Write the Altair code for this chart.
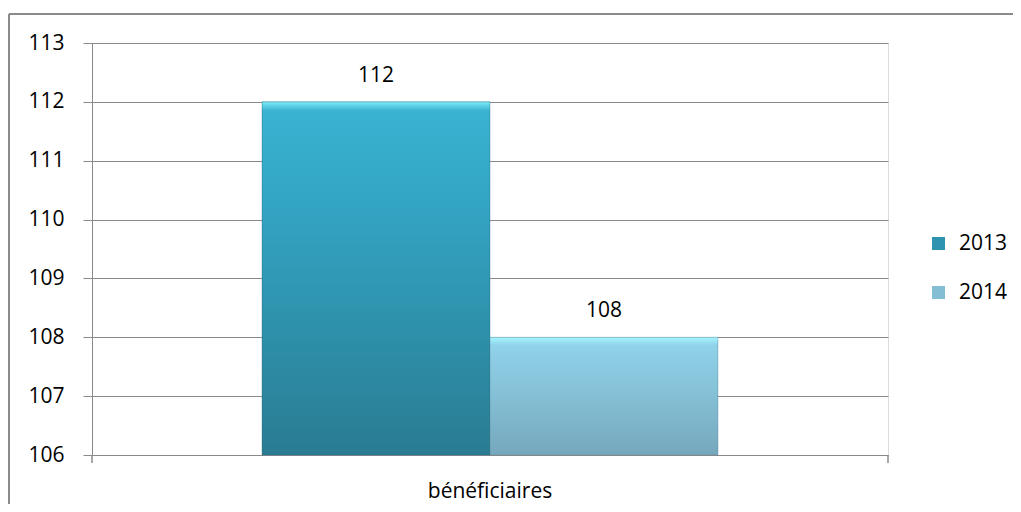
import altair as alt
import pandas as pd

category = ["bénéficiaires"]
years = ["2013", "2014"]
values = [112, 108]
y_ticks = [106, 107, 108, 109, 110, 111, 112, 113]
y_min, y_max = 106, 113

legend_colors = ["#2E93AF", "#84BED4"]
FONT = "Open Sans"
GRID = "#8a8a8a"

df = pd.DataFrame({"cat": category * len(years), "year": years, "value": values})

W, H = 796, 412

x_enc = alt.X("cat:N", title=None,
              scale=alt.Scale(paddingInner=0, paddingOuter=0.373),
              axis=alt.Axis(ticks=False, domain=False, labelFontSize=21, labelFont=FONT,
                            labelColor="black", labelPadding=25, labelAngle=0))
xo_enc = alt.XOffset("year:N", scale=alt.Scale(domain=years, paddingInner=0, paddingOuter=0))
y_enc = alt.Y("value:Q", title=None,
              scale=alt.Scale(domain=[y_min, y_max], nice=False, zero=False),
              axis=alt.Axis(values=y_ticks, grid=True, gridColor=GRID, gridWidth=1,
                            domainColor=GRID, domainWidth=1, tickColor=GRID, tickSize=9,
                            tickWidth=1, labelFontSize=21, labelFont=FONT, labelColor="black",
                            labelPadding=19))

base = alt.Chart(df).encode(x=x_enc, xOffset=xo_enc, y=y_enc, y2=alt.datum(y_min))

legend_layer = base.mark_bar().encode(
    color=alt.Color("year:N", scale=alt.Scale(domain=years, range=legend_colors),
                    legend=alt.Legend(title=None, orient="none", legendX=836, legendY=190,
                                      symbolType="square", symbolSize=169, symbolStrokeWidth=0,
                                      labelFontSize=21, labelFont=FONT, labelColor="black",
                                      labelOffset=10, rowPadding=27, padding=0))
)

grad13 = alt.Gradient(gradient="linear", x1=0, x2=0, y1=0, y2=1, stops=[
    alt.GradientStop(offset=0, color="#7DEAF7"),
    alt.GradientStop(offset=0.025, color="#3AB2D1"),
    alt.GradientStop(offset=0.3, color="#33A4C3"),
    alt.GradientStop(offset=1, color="#297C92"),
])
grad14 = alt.Gradient(gradient="linear", x1=0, x2=0, y1=0, y2=1, stops=[
    alt.GradientStop(offset=0, color="#A5F5FC"),
    alt.GradientStop(offset=0.07, color="#90D2EA"),
    alt.GradientStop(offset=0.4, color="#87C4DA"),
    alt.GradientStop(offset=1, color="#76A8BD"),
])

bar13 = base.transform_filter(alt.datum.year == years[0]).mark_bar(
    color=grad13, stroke="#1f6275", strokeWidth=1, strokeOpacity=0.35)
bar14 = base.transform_filter(alt.datum.year == years[1]).mark_bar(
    color=grad14, stroke="#4f7f92", strokeWidth=1, strokeOpacity=0.35)

labels = base.mark_text(baseline="bottom", dy=-16, fontSize=21, font=FONT, color="black").encode(
    text=alt.Text("value:Q"))

tick_l = alt.Chart(df).mark_rule(color=GRID, strokeWidth=1).encode(
    x=alt.value(0), y=alt.value(H), y2=alt.value(H + 8))
tick_r = alt.Chart(df).mark_rule(color=GRID, strokeWidth=1).encode(
    x=alt.value(W), y=alt.value(H), y2=alt.value(H + 8))

frame_top = alt.Chart(df).mark_rule(color="#8a8a8a", strokeWidth=2).encode(
    x=alt.value(-83), x2=alt.value(W + 200), y=alt.value(-29))
frame_left = alt.Chart(df).mark_rule(color="#8a8a8a", strokeWidth=2).encode(
    x=alt.value(-83), y=alt.value(-29), y2=alt.value(H + 200))

chart = alt.layer(legend_layer, bar13, bar14, labels, tick_l, tick_r, frame_top, frame_left).properties(
    width=W, height=H,
    autosize=alt.AutoSizeParams(type="none"),
    padding={"left": 84, "top": 35, "right": 125, "bottom": 49},
).configure_view(stroke=None).configure(background="white")

chart.save("out.html", embed_options={"renderer": "svg", "actions": False})
